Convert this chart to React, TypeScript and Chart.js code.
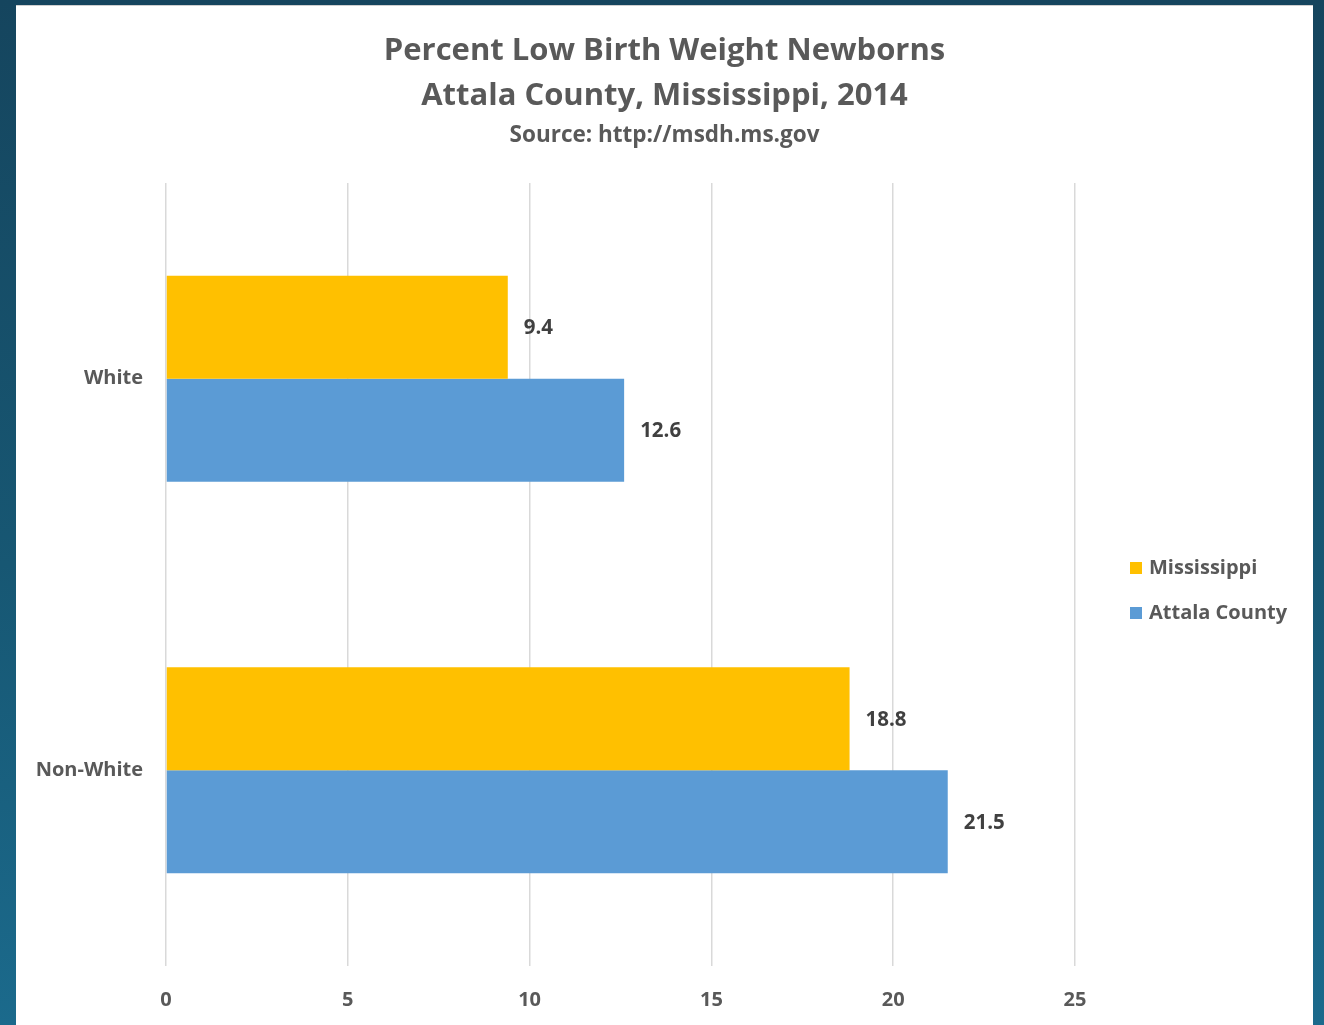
import React, { useEffect, useRef } from "react";
import { Chart, registerables } from "chart.js";

Chart.register(...registerables);

const categories = ["White", "Non-White"];
const seriesNames = ["Mississippi", "Attala County"];
const mississippiValues = [9.4, 18.8];
const attalaValues = [12.6, 21.5];
const seriesColors = ["#FFC000", "#5B9BD5"];
const titleLines = ["Percent Low Birth Weight Newborns", "Attala County, Mississippi, 2014"];
const subtitleText = "Source: http://msdh.ms.gov";

const FONT = "'Open Sans', 'DejaVu Sans', sans-serif";
const TEXT = "#595959";

const titlePlugin = {
  id: "centeredTitle",
  afterDraw(chart: any) {
    const ctx = chart.ctx;
    const cx = chart.width / 2;
    ctx.save();
    ctx.fillStyle = TEXT;
    ctx.textAlign = "center";
    ctx.textBaseline = "middle";
    ctx.font = `bold 31px ${FONT}`;
    titleLines.forEach((line, i) => ctx.fillText(line, cx, 45 + i * 45));
    ctx.font = `bold 22.5px ${FONT}`;
    ctx.fillText(subtitleText, cx, 130);
    ctx.restore();
  },
};

const labelPlugin = {
  id: "valueLabels",
  afterDatasetsDraw(chart: any) {
    const ctx = chart.ctx;
    ctx.save();
    ctx.font = `bold 20.5px ${FONT}`;
    ctx.fillStyle = "#404040";
    ctx.textAlign = "left";
    ctx.textBaseline = "middle";
    chart.data.datasets.forEach((ds: any, di: number) => {
      const meta = chart.getDatasetMeta(di);
      meta.data.forEach((el: any, i: number) => {
        ctx.fillText(Number(ds.data[i]).toFixed(1), el.x + 16, el.y + 1);
      });
    });
    ctx.restore();
  },
};

const legendPlugin = {
  id: "sideLegend",
  afterDraw(chart: any) {
    const ctx = chart.ctx;
    const a = chart.chartArea;
    ctx.save();
    ctx.font = `bold 20px ${FONT}`;
    ctx.textAlign = "left";
    ctx.textBaseline = "middle";
    chart.data.datasets.forEach((ds: any, di: number) => {
      const x = a.right + 55;
      const y = a.top + 385 + di * 45;
      ctx.fillStyle = ds.backgroundColor;
      ctx.fillRect(x, y - 6, 12, 12);
      ctx.fillStyle = TEXT;
      ctx.fillText(ds.label, x + 19, y);
    });
    ctx.restore();
  },
};

export default function App() {
  const ref = useRef<HTMLCanvasElement | null>(null);
  useEffect(() => {
    if (!ref.current) return;
    const chart = new Chart(ref.current, {
      type: "bar",
      data: {
        labels: categories,
        datasets: [
          { label: seriesNames[0], data: mississippiValues, backgroundColor: seriesColors[0] },
          { label: seriesNames[1], data: attalaValues, backgroundColor: seriesColors[1] },
        ],
      },
      options: {
        indexAxis: "y",
        animation: false,
        responsive: false,
        maintainAspectRatio: false,
        layout: { padding: { top: 177, right: 238, bottom: 0, left: 0 } },
        datasets: { bar: { barPercentage: 1, categoryPercentage: 0.526 } },
        plugins: {
          legend: { display: false },
          tooltip: { enabled: false },
          title: { display: false },
        },
        scales: {
          x: {
            min: 0,
            max: 25,
            ticks: { stepSize: 5, color: TEXT, padding: 22, font: { family: FONT, size: 20, weight: "bold" } },
            grid: { color: "#D9D9D9", lineWidth: 1.5, drawTicks: false },
            border: { display: false },
            afterFit(scale: any) {
              scale.height = 59;
            },
          },
          y: {
            ticks: { color: TEXT, padding: 23, font: { family: FONT, size: 20, weight: "bold" } },
            grid: { display: false, drawTicks: false },
            border: { display: false },
            afterFit(scale: any) {
              scale.width = 150;
            },
          },
        },
      },
      plugins: [labelPlugin, legendPlugin, titlePlugin],
    });
    return () => chart.destroy();
  }, []);

  return (
    <div
      style={{
        position: "absolute",
        left: 0,
        top: 0,
        width: 1324,
        height: 1025,
        overflow: "hidden",
        background: "linear-gradient(180deg, #15455E 0%, #175773 55%, #1B6A8C 100%)",
      }}
    >
      <div
        style={{
          position: "absolute",
          left: 16,
          top: 5,
          width: 1297,
          height: 1020,
          background: "#FFFFFF",
          borderTop: "1px solid #CFCFCF",
          boxSizing: "border-box",
        }}
      >
        <canvas ref={ref} width={1297} height={1019} style={{ display: "block", width: 1297, height: 1019 }} />
      </div>
    </div>
  );
}
